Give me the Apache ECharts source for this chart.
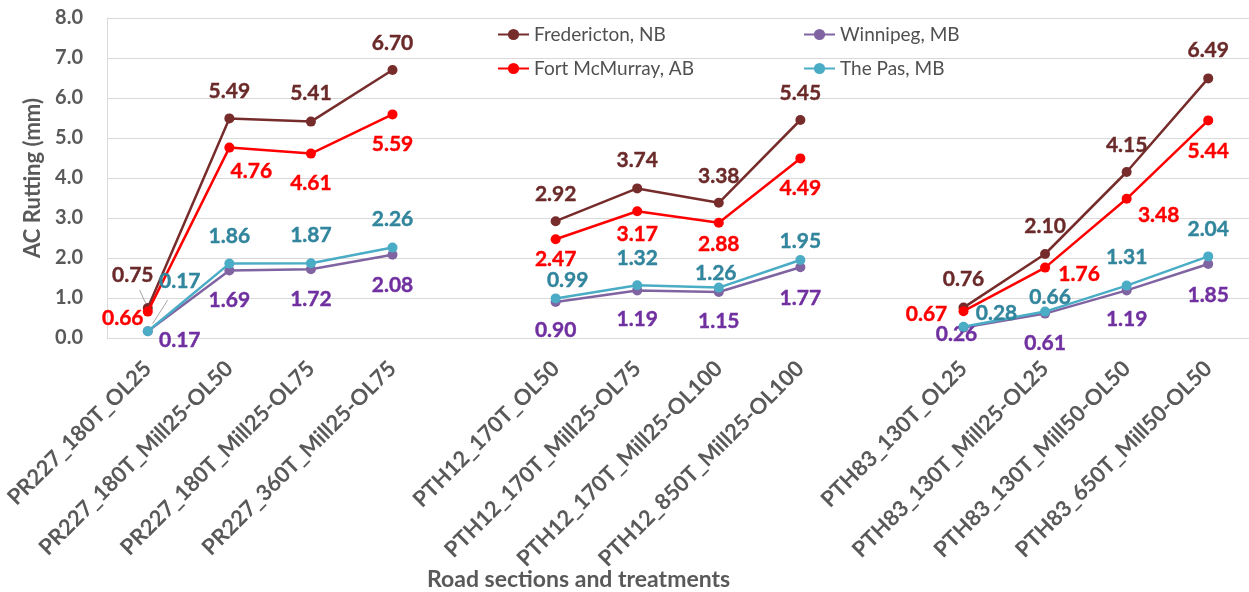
<!DOCTYPE html>
<html><head><meta charset="utf-8">
<script src="https://cdn.jsdelivr.net/npm/echarts@6/dist/echarts.min.js"></script>
<style>html,body{margin:0;padding:0;background:#fff}#c{width:1249px;height:592px}</style>
</head><body><div id="c"></div>
<script>
// ---- data ----
const categories = ['PR227_180T_OL25','PR227_180T_Mill25-OL50','PR227_180T_Mill25-OL75','PR227_360T_Mill25-OL75','',
  'PTH12_170T_OL50','PTH12_170T_Mill25-OL75','PTH12_170T_Mill25-OL100','PTH12_850T_Mill25-OL100','',
  'PTH83_130T_OL25','PTH83_130T_Mill25-OL25','PTH83_130T_Mill50-OL50','PTH83_650T_Mill50-OL50'];
const fredericton  = [0.75, 5.49, 5.41, 6.70, null, 2.92, 3.74, 3.38, 5.45, null, 0.76, 2.10, 4.15, 6.49];
const fortMcMurray = [0.66, 4.76, 4.61, 5.59, null, 2.47, 3.17, 2.88, 4.49, null, 0.67, 1.76, 3.48, 5.44];
const winnipeg     = [0.17, 1.69, 1.72, 2.08, null, 0.90, 1.19, 1.15, 1.77, null, 0.26, 0.61, 1.19, 1.85];
const thePas       = [0.17, 1.86, 1.87, 2.26, null, 0.99, 1.32, 1.26, 1.95, null, 0.28, 0.66, 1.31, 2.04];
const yTicks = [0, 1, 2, 3, 4, 5, 6, 7, 8];

// ---- label placement (style) ----
const fredOff = [[-15,-33],[0,-27],[0,-28],[0,-27],null,[0,-27],[0,-28],[0,-27],[0,-27],null,[0,-28],[0,-28],[0,-27],[0,-28]];
const fortOff = [[-25,7],[22,24],[0,30],[0,30],null,[0,20],[0,23],[0,21],[0,30],null,[-37,3],[34,7],[32,16],[0,31]];
const winOff  = [[32,9],[0,30],[0,30],[0,30],null,[0,28],[0,29],[0,29],[0,31],null,[-7,7],[0,30],[0,29],[0,31]];
const pasOff  = [[32,-50],[0,-27],[0,-28],[0,-28],null,[12,-18],[0,-27],[-3,-14],[0,-19],null,[33,-14],[5,-14],[0,-28],[0,-27]];

const FONT = 'Lato';
const GRAY = '#595959';

function mkData(vals, offs, color) {
  return vals.map((v, i) => v == null ? null : {
    value: v,
    label: { show: true, position: 'inside', offset: offs[i], color: color,
      fontFamily: FONT, fontWeight: 'bold', fontSize: 21,
      textBorderColor: color, textBorderWidth: 0.4,
      formatter: p => p.value.toFixed(2) }
  });
}
function mkSeries(name, vals, offs, lineColor, labelColor, z) {
  return {
    name, type: 'line', data: mkData(vals, offs, labelColor), z,
    symbol: 'circle', symbolSize: 10, connectNulls: false,
    lineStyle: { color: lineColor, width: 2.5 },
    itemStyle: { color: lineColor },
    emphasis: { disabled: true }
  };
}

const chart = echarts.init(document.getElementById('c'), null, { renderer: 'canvas' });
const grid = { left: 107, top: 18, width: 1146, height: 320 };
const legendCommon = { orient: 'vertical', top: 25, padding: 0,
  itemWidth: 31, itemHeight: 14, itemGap: 15,
  textStyle: { fontFamily: FONT, fontSize: 19, color: '#505050' } };
chart.setOption({
  animation: false,
  backgroundColor: '#fff',
  grid,
  legend: [
    Object.assign({ data: ['Fredericton, NB', 'Fort McMurray, AB'], left: 497 }, legendCommon),
    Object.assign({ data: ['Winnipeg, MB', 'The Pas, MB'], left: 803 }, legendCommon)
  ],
  title: { text: 'Road sections and treatments', left: 427, top: 568, padding: 0,
    textStyle: { fontFamily: FONT, fontWeight: 'bold', fontSize: 23, color: GRAY } },
  xAxis: {
    type: 'category', data: categories, boundaryGap: true,
    axisLine: { show: true, lineStyle: { color: '#D9D9D9', width: 1 } },
    axisTick: { show: false },
    axisLabel: { rotate: 45, interval: 0, margin: 27, color: GRAY,
      fontFamily: FONT, fontWeight: 'bold', fontSize: 22 }
  },
  yAxis: {
    type: 'value', min: yTicks[0], max: yTicks[yTicks.length - 1], interval: 1,
    name: 'AC Rutting (mm)', nameLocation: 'middle', nameGap: 63, nameRotate: 90,
    nameTextStyle: { fontFamily: FONT, fontWeight: 'bold', fontSize: 22, color: GRAY },
    axisLine: { show: true, lineStyle: { color: '#D9D9D9', width: 1 } },
    axisTick: { show: false },
    splitLine: { lineStyle: { color: '#D9D9D9', width: 1 } },
    axisLabel: { margin: 24, color: GRAY, fontFamily: FONT, fontWeight: 'bold', fontSize: 20,
      formatter: v => v.toFixed(1) }
  },
  series: [
    mkSeries('Fredericton, NB', fredericton, fredOff, '#772C2C', '#6B2A2A', 2),
    mkSeries('Winnipeg, MB', winnipeg, winOff, '#8064A2', '#7030A0', 3),
    mkSeries('Fort McMurray, AB', fortMcMurray, fortOff, '#FF0000', '#FF0000', 4),
    mkSeries('The Pas, MB', thePas, pasOff, '#4BACC6', '#31859C', 5)
  ]
});

// leader lines for the displaced first-point labels
function leader(vals, offs, idx, f0, f1) {
  const p = chart.convertToPixel({ gridIndex: 0 }, [idx, vals[idx]]);
  const o = offs[idx];
  return { type: 'line', z: 10, silent: true,
    shape: { x1: p[0] + o[0] * f0, y1: p[1] + o[1] * f0, x2: p[0] + o[0] * f1, y2: p[1] + o[1] * f1 },
    style: { stroke: '#A6A6A6', lineWidth: 1 } };
}
chart.setOption({ graphic: [ leader(fredericton, fredOff, 0, 0.15, 0.55), leader(thePas, pasOff, 0, 0.15, 0.62) ] });
</script>
</body></html>
